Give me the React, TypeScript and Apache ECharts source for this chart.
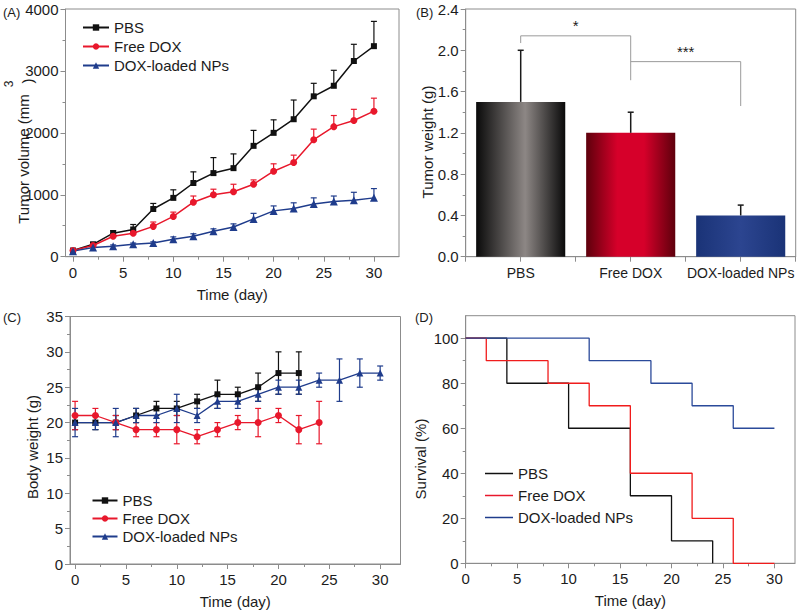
import React, { useEffect, useRef } from "react";
import * as echarts from "echarts";

// ---------- data ----------
const days = [0, 2, 4, 6, 8, 10, 12, 14, 16, 18, 20, 22, 24, 26, 28, 30];

// (A) tumor volume (mm3), mean and upper SD
const volPBS = [100, 200, 380, 440, 770, 950, 1190, 1350, 1430, 1790, 2000, 2220, 2590, 2760, 3160, 3400];
const volPBSErr = [20, 30, 40, 80, 90, 130, 180, 250, 230, 250, 210, 310, 210, 250, 270, 400];
const volDOX = [100, 180, 330, 380, 490, 650, 880, 1000, 1050, 1170, 1380, 1520, 1890, 2100, 2200, 2350];
const volDOXErr = [20, 20, 40, 50, 70, 70, 100, 90, 120, 70, 120, 120, 170, 180, 180, 210];
const volNP = [90, 150, 170, 200, 220, 280, 330, 410, 480, 610, 740, 780, 850, 890, 910, 950];
const volNPErr = [20, 20, 20, 20, 20, 40, 40, 40, 50, 90, 80, 90, 100, 90, 130, 150];

// (B) tumor weight (g)
const groups = ["PBS", "Free DOX", "DOX-loaded NPs"];
const weightMean = [1.5, 1.2, 0.4];
const weightErr = [0.5, 0.2, 0.1];
// significance brackets: from group, to group, top, left leg bottom, right leg bottom
const brFrom = [0, 1];
const brTo = [1, 2];
const brTop = [2.14, 1.89];
const brLeftBottom = [2.07, 1.89];
const brRightBottom = [1.71, 1.46];
const brLabels = ["*", "***"];

// (C) body weight (g)
const bwDaysPBS = [0, 2, 4, 6, 8, 10, 12, 14, 16, 18, 20, 22];
const bwPBS = [20, 20, 20, 21, 22, 22, 23, 24, 24, 25, 27, 27];
const bwPBSErr = [1, 1, 1, 1, 1, 1, 1, 2, 1, 2, 3, 3];
const bwDaysDOX = [0, 2, 4, 6, 8, 10, 12, 14, 16, 18, 20, 22, 24];
const bwDOX = [21, 21, 20, 19, 19, 19, 18, 19, 20, 20, 21, 19, 20];
const bwDOXErr = [2, 1, 1, 1, 1, 2, 1, 1, 1, 2, 1, 2, 3];
const bwDaysNP = [0, 2, 4, 6, 8, 10, 12, 14, 16, 18, 20, 22, 24, 26, 28, 30];
const bwNP = [20, 20, 20, 21, 21, 22, 21, 23, 23, 24, 25, 25, 26, 26, 27, 27];
const bwNPErr = [2, 1, 2, 1, 1, 2, 1, 1, 1, 1, 1, 1, 1, 3, 2, 1];

// (D) survival (%)
const survDaysPBS = [0, 4, 10, 16, 20, 24];
const survPBS = [100, 80, 60, 30, 10, 0];
const survDaysDOX = [0, 2, 8, 12, 16, 22, 26, 30];
const survDOX = [100, 90, 80, 70, 40, 20, 0, 0];
const survDaysNP = [0, 12, 18, 22, 26, 30];
const survNP = [100, 90, 80, 70, 60, 60];

// tick labels
const xTicks = [0, 5, 10, 15, 20, 25, 30];
const xMinorTicks = [2.5, 7.5, 12.5, 17.5, 22.5, 27.5];
const survTicks = [0, 20, 40, 60, 80, 100];
const survMinorTicks = [10, 30, 50, 70, 90];

// ---------- styles ----------
const FONT = '"Liberation Sans", Arial, Helvetica, sans-serif';
const GRAY = "#8c8c8c";
const TXT = "#1c1c1c";
const C_BLACK = "#111111";
const C_RED = "#e8182c";
const C_BLUE = "#1f3c8c";
const D_RED = "#f01c1c";
const D_BLUE = "#2b4a9a";

const axLine = { color: GRAY, width: 1 };
const lbl = { fontSize: 15, color: TXT, fontFamily: FONT };

const barGradients = [
  [
    { offset: 0, color: "#0a0a0a" },
    { offset: 0.55, color: "#8d8785" },
    { offset: 1, color: "#0a0a0a" },
  ],
  [
    { offset: 0, color: "#5e000c" },
    { offset: 0.35, color: "#d6002a" },
    { offset: 0.65, color: "#d6002a" },
    { offset: 1, color: "#5e000c" },
  ],
  [
    { offset: 0, color: "#1a3377" },
    { offset: 0.5, color: "#2c4590" },
    { offset: 1, color: "#1a3377" },
  ],
];

function errorBars(cap: number, upOnly: boolean, width: number) {
  return (_params: any, api: any) => {
    const x = api.value(0);
    const y = api.value(1);
    const e = api.value(2);
    const top = api.coord([x, y + e]);
    const bot = api.coord([x, upOnly ? y : y - e]);
    const style = { stroke: api.visual("color"), lineWidth: width };
    const children: any[] = [
      { type: "line", shape: { x1: top[0], y1: top[1], x2: bot[0], y2: bot[1] }, style },
      { type: "line", shape: { x1: top[0] - cap, y1: top[1], x2: top[0] + cap, y2: top[1] }, style },
    ];
    if (!upOnly) {
      children.push({ type: "line", shape: { x1: bot[0] - cap, y1: bot[1], x2: bot[0] + cap, y2: bot[1] }, style });
    }
    return { type: "group", children };
  };
}

function xMain(gridIndex: number, min: number, max: number, name?: string) {
  return {
    type: "value",
    gridIndex,
    min,
    max,
    position: "bottom",
    name,
    nameLocation: "middle",
    nameGap: 30,
    nameTextStyle: { ...lbl },
    axisLine: { show: true, onZero: false, lineStyle: axLine },
    axisTick: { show: true, customValues: xTicks, length: 5, lineStyle: axLine },
    axisLabel: { ...lbl, customValues: xTicks, margin: 8, formatter: (v: number) => String(v) },
    splitLine: { show: false },
  };
}
function xMinor(gridIndex: number, min: number, max: number) {
  return {
    type: "value",
    gridIndex,
    min,
    max,
    position: "bottom",
    axisLine: { show: false },
    axisTick: { show: true, customValues: xMinorTicks, length: 3, lineStyle: axLine },
    axisLabel: { show: false },
    splitLine: { show: false },
  };
}
function yMain(gridIndex: number, min: number, max: number, interval: number, fmt?: (v: number) => string) {
  return {
    type: "value",
    gridIndex,
    min,
    max,
    interval,
    position: "left",
    axisLine: { show: true, onZero: false, lineStyle: axLine },
    axisTick: { show: true, length: 5, lineStyle: axLine },
    minorTick: { show: true, splitNumber: 2, length: 3, lineStyle: axLine },
    axisLabel: { ...lbl, margin: 7, formatter: fmt || ((v: number) => String(v)) },
    splitLine: { show: false },
    minorSplitLine: { show: false },
  };
}

const gridBase = { show: true, borderColor: GRAY, borderWidth: 1, backgroundColor: "transparent", containLabel: false, outerBoundsMode: "none" };

function lineSeries(name: string, color: string, symbol: string, size: number, xs: number[], ys: number[], xi: number, yi: number, w: number) {
  return {
    name,
    type: "line",
    xAxisIndex: xi,
    yAxisIndex: yi,
    data: xs.map((x, i) => [x, ys[i]]),
    symbol,
    symbolSize: size,
    showSymbol: true,
    color,
    itemStyle: { color },
    lineStyle: { color, width: w },
    z: 3,
  };
}
function errSeries(color: string, xs: number[], ys: number[], es: number[], xi: number, yi: number, upOnly: boolean) {
  return {
    name: "err",
    type: "custom",
    xAxisIndex: xi,
    yAxisIndex: yi,
    data: xs.map((x, i) => [x, ys[i], es[i]]),
    itemStyle: { color },
    renderItem: errorBars(3, upOnly, 1.2),
    z: 2,
  };
}
function stepSeries(name: string, color: string, xs: number[], ys: number[]) {
  return {
    name,
    type: "line",
    step: "end",
    xAxisIndex: 6,
    yAxisIndex: 3,
    data: xs.map((x, i) => [x, ys[i]]),
    symbol: "none",
    showSymbol: false,
    color,
    itemStyle: { color },
    lineStyle: { color, width: 1.3 },
    z: 3,
  };
}

const legendNames = ["PBS", "Free DOX", "DOX-loaded NPs"];
const lineIcon = "path://M0,0L28,0L28,1.5L0,1.5Z";

function rotText(text: string, x: number, y: number, size = 15) {
  return {
    type: "text",
    x,
    y,
    rotation: Math.PI / 2,
    style: {
      text,
      fill: TXT,
      font: `${size}px ${FONT}`,
      textAlign: "center",
      textVerticalAlign: "middle",
      align: "center",
      verticalAlign: "middle",
    },
  };
}
function plainText(text: string, x: number, y: number, size = 13) {
  return {
    type: "text",
    x,
    y,
    style: { text, fill: TXT, font: `${size}px ${FONT}`, textVerticalAlign: "middle", verticalAlign: "middle" },
  };
}

const option: any = {
  animation: false,
  backgroundColor: "#ffffff",
  textStyle: { fontFamily: FONT },
  grid: [
    { ...gridBase, left: 65.5, top: 9, width: 333.5, height: 247.7 },
    { ...gridBase, left: 465.7, top: 9, width: 330, height: 247.7 },
    { ...gridBase, left: 70, top: 316.5, width: 330.5, height: 247.5 },
    { ...gridBase, left: 465.7, top: 315.7, width: 329.3, height: 247.6 },
  ],
  xAxis: [
    xMain(0, -0.75, 32.5, "Time (day)"),
    xMinor(0, -0.75, 32.5),
    {
      type: "category",
      gridIndex: 1,
      data: groups,
      position: "bottom",
      boundaryGap: true,
      axisLine: { show: true, onZero: false, lineStyle: axLine },
      axisTick: { show: false },
      axisLabel: { ...lbl, fontSize: 14, margin: 9, interval: 0 },
      splitLine: { show: false },
    },
    {
      type: "value",
      gridIndex: 1,
      min: 0,
      max: 3,
      interval: 0.5,
      position: "bottom",
      axisLine: { show: false },
      axisTick: { show: true, length: 5, lineStyle: axLine },
      axisLabel: { show: false },
      splitLine: { show: false },
    },
    xMain(2, -0.5, 32, "Time (day)"),
    xMinor(2, -0.5, 32),
    xMain(3, 0, 32, "Time (day)"),
    xMinor(3, 0, 32),
  ],
  yAxis: [
    yMain(0, 0, 4000, 1000),
    yMain(1, 0, 2.4, 0.4, (v: number) => v.toFixed(1)),
    yMain(2, 0, 35, 5),
    {
      type: "value",
      gridIndex: 3,
      min: 0,
      max: 110,
      position: "left",
      axisLine: { show: true, onZero: false, lineStyle: axLine },
      axisTick: { show: true, customValues: survTicks, length: 5, lineStyle: axLine },
      axisLabel: { ...lbl, customValues: survTicks, margin: 7, formatter: (v: number) => String(v) },
      splitLine: { show: false },
    },
    {
      type: "value",
      gridIndex: 3,
      min: 0,
      max: 110,
      position: "left",
      axisLine: { show: false },
      axisTick: { show: true, customValues: survMinorTicks, length: 3, lineStyle: axLine },
      axisLabel: { show: false },
      splitLine: { show: false },
    },
  ],
  legend: [
    {
      data: legendNames,
      orient: "vertical",
      left: 82,
      top: 20,
      padding: 0,
      itemWidth: 26,
      itemHeight: 8,
      itemGap: 4,
      selectedMode: false,
      textStyle: { ...lbl },
    },
    {
      data: legendNames,
      orient: "vertical",
      left: 91.5,
      top: 493,
      padding: 0,
      itemWidth: 25,
      itemHeight: 8,
      itemGap: 3,
      selectedMode: false,
      textStyle: { ...lbl },
    },
    {
      data: legendNames.map((n) => ({ name: n, icon: lineIcon })),
      orient: "vertical",
      left: 485,
      top: 466,
      padding: 0,
      itemWidth: 28,
      itemHeight: 8,
      itemGap: 7,
      selectedMode: false,
      textStyle: { ...lbl },
    },
  ],
  series: [
    // (A)
    lineSeries("PBS", C_BLACK, "rect", 6, days, volPBS, 0, 0, 1.5),
    lineSeries("Free DOX", C_RED, "circle", 7, days, volDOX, 0, 0, 1.5),
    lineSeries("DOX-loaded NPs", C_BLUE, "triangle", 8, days, volNP, 0, 0, 1.5),
    errSeries(C_BLACK, days, volPBS, volPBSErr, 0, 0, true),
    errSeries(C_RED, days, volDOX, volDOXErr, 0, 0, true),
    errSeries(C_BLUE, days, volNP, volNPErr, 0, 0, true),
    // (B)
    {
      name: "Tumor weight",
      type: "bar",
      xAxisIndex: 2,
      yAxisIndex: 1,
      barWidth: "81%",
      data: weightMean.map((v, i) => ({
        value: v,
        itemStyle: { color: new echarts.graphic.LinearGradient(0, 0, 1, 0, barGradients[i]) },
      })),
      z: 2,
    },
    {
      name: "weight err",
      type: "custom",
      xAxisIndex: 2,
      yAxisIndex: 1,
      data: weightMean.map((v, i) => [i, v, weightErr[i]]),
      itemStyle: { color: "#1a1a1a" },
      renderItem: errorBars(3, true, 1.5),
      z: 3,
    },
    {
      name: "significance",
      type: "custom",
      xAxisIndex: 2,
      yAxisIndex: 1,
      data: brFrom.map((f, i) => [f, brTop[i], brTo[i], brLeftBottom[i], brRightBottom[i]]),
      renderItem: (params: any, api: any) => {
        const i = params.dataIndex;
        const x1 = api.value(0);
        const yt = api.value(1);
        const x2 = api.value(2);
        const yb1 = api.value(3);
        const yb2 = api.value(4);
        const tl = api.coord([x1, yt]);
        const tr = api.coord([x2, yt]);
        const bl = api.coord([x1, yb1]);
        const br = api.coord([x2, yb2]);
        return {
          type: "group",
          children: [
            {
              type: "polyline",
              shape: { points: [bl, tl, tr, br] },
              style: { stroke: "#9a9a9a", lineWidth: 1, fill: null },
            },
            {
              type: "text",
              x: (tl[0] + tr[0]) / 2,
              y: tl[1] - 3,
              style: {
                text: brLabels[i],
                fill: TXT,
                font: `15px ${FONT}`,
                textAlign: "center",
                textVerticalAlign: "bottom",
                align: "center",
                verticalAlign: "bottom",
              },
            },
          ],
        };
      },
      z: 3,
    },
    // (C)
    lineSeries("PBS", C_BLACK, "rect", 6, bwDaysPBS, bwPBS, 4, 2, 1.3),
    lineSeries("Free DOX", C_RED, "circle", 7, bwDaysDOX, bwDOX, 4, 2, 1.3),
    lineSeries("DOX-loaded NPs", C_BLUE, "triangle", 7, bwDaysNP, bwNP, 4, 2, 1.3),
    errSeries(C_BLACK, bwDaysPBS, bwPBS, bwPBSErr, 4, 2, false),
    errSeries(C_RED, bwDaysDOX, bwDOX, bwDOXErr, 4, 2, false),
    errSeries(C_BLUE, bwDaysNP, bwNP, bwNPErr, 4, 2, false),
    // (D)
    stepSeries("PBS", C_BLACK, survDaysPBS, survPBS),
    stepSeries("Free DOX", D_RED, survDaysDOX, survDOX),
    stepSeries("DOX-loaded NPs", D_BLUE, survDaysNP, survNP),
  ],
  graphic: [
    plainText("(A)", 3, 12),
    plainText("(B)", 416, 12),
    plainText("(C)", 3, 317),
    plainText("(D)", 415, 317),
    rotText("Tumor volume (mm", 23, 159),
    rotText(")", 27, 81),
    rotText("3", 9, 84, 12),
    rotText("Tumor weight (g)", 427, 142),
    rotText("Body weight (g)", 32, 447),
    rotText("Survival (%)", 420, 459),
  ],
};

export default function App() {
  const ref = useRef<HTMLDivElement>(null);
  useEffect(() => {
    document.body.style.margin = "0";
    const chart = echarts.init(ref.current as HTMLDivElement, null, { renderer: "svg" });
    chart.setOption(option);
    return () => {
      chart.dispose();
    };
  }, []);
  return <div ref={ref} style={{ position: "absolute", left: 0, top: 0, width: 800, height: 615 }} />;
}
